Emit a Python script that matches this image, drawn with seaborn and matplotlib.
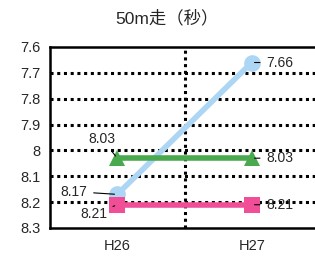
import matplotlib
matplotlib.use("Agg")
import matplotlib.pyplot as plt
import seaborn as sns
import pandas as pd

years = ["H26", "H27"]
series_names = ["A", "B", "C"]
blue_vals = [8.17, 7.66]
green_vals = [8.03, 8.03]
pink_vals = [8.21, 8.21]
y_ticks = [7.6, 7.7, 7.8, 7.9, 8.0, 8.1, 8.2, 8.3]
y_labels = ["7.6", "7.7", "7.8", "7.9", "8", "8.1", "8.2", "8.3"]

sns.set_style("white")
plt.rcParams['font.family'] = ['Liberation Sans', 'Noto Sans CJK JP', 'DejaVu Sans']

rows = []
for name, vals in zip(series_names, [blue_vals, green_vals, pink_vals]):
    for i, v in enumerate(vals):
        rows.append({"x": i, "value": v, "series": name})
df = pd.DataFrame(rows)

colors = {"A": "#acd6f3", "B": "#4aa84f", "C": "#f04f98"}
markers = {"A": "o", "B": "^", "C": "s"}

fig = plt.figure(figsize=(3.15, 2.58), dpi=100)
ax = fig.add_axes([50/315, 30/258, 269/315, 181/258])

# grid
for y in y_ticks[1:-1]:
    ax.axhline(y, color="black", lw=2.2, ls=(0, (1, 1.2)), zorder=1)
ax.axvline(0.5, color="black", lw=2.2, ls=(0, (1, 1.2)), zorder=1)

sns.lineplot(data=df, x="x", y="value", hue="series", style="series",
             palette=colors, markers=markers, dashes=False, lw=4,
             markersize=12, markeredgewidth=0, legend=False, ax=ax, zorder=3)

ax.set_xlim(-0.5, 1.5)
ax.set_ylim(8.3, 7.6)
ax.set_yticks(y_ticks)
ax.set_yticklabels(y_labels)
ax.set_xticks([0.5, 1.5])
ax.set_xticklabels([])
ax.set_xticks([0, 1], minor=True)
ax.set_xticklabels(years, minor=True)
ax.tick_params(axis="x", which="minor", length=0, pad=8, labelsize=10.5)
ax.tick_params(axis="x", which="major", direction="inout", length=10, width=1.8)
ax.tick_params(axis="y", direction="inout", length=10, width=1.8, labelsize=10.5, pad=2)
ax.set_xlabel("")
ax.set_ylabel("")
for s in ["left", "bottom", "top"]:
    ax.spines[s].set_visible(True)
    ax.spines[s].set_color("black")
    ax.spines[s].set_linewidth(1.8)
ax.spines["right"].set_visible(False)

fig.text(0.53, 0.93, "50m走（秒）", ha="center", va="center", fontsize=12.5)

lead = dict(arrowstyle="-", color="black", lw=0.8)
fs = 10
ax.annotate("8.03", xy=(0, green_vals[0]), xytext=(-11, 14), textcoords="offset points",
            ha="center", va="center", fontsize=fs, arrowprops=lead)
ax.annotate("8.17", xy=(0, blue_vals[0]), xytext=(-31, 2), textcoords="offset points",
            ha="center", va="center", fontsize=fs, arrowprops=lead)
ax.annotate("8.21", xy=(0, pink_vals[0]), xytext=(-17, -7), textcoords="offset points",
            ha="center", va="center", fontsize=fs, arrowprops=lead)
for v in [blue_vals[1], green_vals[1], pink_vals[1]]:
    ax.annotate(f"{v:.2f}", xy=(1, v), xytext=(20, 0), textcoords="offset points",
                ha="center", va="center", fontsize=fs, arrowprops=lead)

fig.savefig("out.png", dpi=100)
